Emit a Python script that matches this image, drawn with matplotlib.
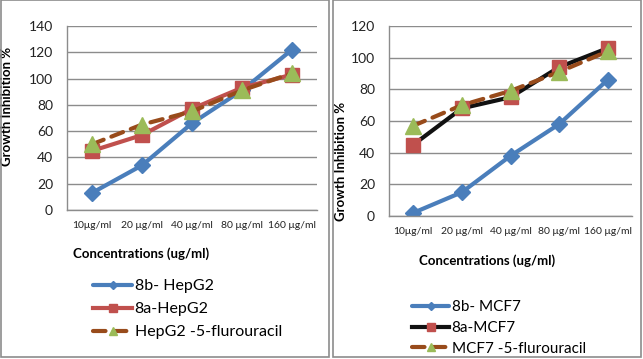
import matplotlib
matplotlib.use("Agg")
import matplotlib.pyplot as plt
from matplotlib.patches import Rectangle

plt.rcParams['font.family'] = ['Lato', 'DejaVu Sans']

categories = ["10μg/ml", "20 μg/ml", "40 μg/ml", "80 μg/ml", "160 μg/ml"]

hepg2_8b = [13, 34, 66, 91, 122]
hepg2_8a = [45, 57, 77, 93, 103]
hepg2_fu = [50, 65, 75, 91, 104]

mcf7_8b = [2, 15, 38, 58, 86]
mcf7_8a = [45, 68, 75, 94, 106]
mcf7_fu = [57, 70, 79, 91, 104]

labels_left = ["8b- HepG2", "8a-HepG2", "HepG2 -5-flurouracil"]
labels_right = ["8b- MCF7", "8a-MCF7", "MCF7 -5-flurouracil"]

W, H = 643, 359
fig = plt.figure(figsize=(W / 100, H / 100), dpi=100)

def fx(px):
    return px / W

def fy(py):
    return 1 - py / H

# panel borders
for (x0, x1) in [(1, 329), (333, 641)]:
    fig.patches.append(Rectangle((fx(x0), fy(357)), fx(x1 - x0), (357 - 0) / H,
                                 transform=fig.transFigure, fill=False,
                                 edgecolor='#8c8c8c', linewidth=1.2))

BLUE = '#4a7ebb'
RED = '#c0504d'
BROWN = '#984b1b'
GREEN = '#9bbb59'
GRID = '#8c8c8c'

def make_axes(left, right, top, bottom):
    return fig.add_axes([fx(left), fy(bottom), fx(right - left), (bottom - top) / H])

def style(ax, ymax):
    ax.set_xlim(-0.5, 4.5)
    ax.set_ylim(0, ymax)
    ax.set_yticks(range(0, ymax + 1, 20))
    ax.grid(axis='y', color=GRID, linewidth=1)
    ax.set_axisbelow(True)
    for s in ['top', 'right']:
        ax.spines[s].set_visible(False)
    for s in ['left', 'bottom']:
        ax.spines[s].set_color(GRID)
        ax.spines[s].set_linewidth(1)
    ax.set_xticks(range(len(categories)))
    ax.set_xticklabels(categories, fontsize=7.5, color='#222222')
    ax.tick_params(axis='x', length=0, pad=8)
    ax.tick_params(axis='y', length=0, pad=10, labelsize=10, labelcolor='#222222')

def plot_series(ax, d8b, d8a, dfu, c8a):
    x = range(len(categories))
    l1, = ax.plot(x, d8b, color=BLUE, linewidth=3, marker='D', markersize=8,
                  markerfacecolor=BLUE, markeredgecolor=BLUE, solid_capstyle='round')
    l2, = ax.plot(x, d8a, color=c8a, linewidth=3, marker='s', markersize=10,
                  markerfacecolor=RED, markeredgecolor=RED)
    l3, = ax.plot(x, dfu, color=BROWN, linewidth=3, linestyle=(0, (3, 2)),
                  dash_capstyle='round', marker='^', markersize=11,
                  markerfacecolor=GREEN, markeredgecolor=GREEN)
    return [l1, l2, l3]

def add_legend(handles, labels, x, y, spacing, size):
    fig.legend(handles, labels, loc='upper left', bbox_to_anchor=(fx(x), fy(y)),
               frameon=False, fontsize=size, handlelength=2.45, handletextpad=0.15,
               labelspacing=spacing, borderpad=0, borderaxespad=0, markerscale=0.55)

# Left chart
axL = make_axes(67, 317, 26, 210)
style(axL, 140)
hL = plot_series(axL, hepg2_8b, hepg2_8a, hepg2_fu, RED)
axL.set_ylabel("Growth Inhibition %", fontsize=9.5, fontweight='bold')
axL.yaxis.set_label_coords((13 - 67) / 250, (210 - 106) / 184)
fig.text(fx(141), fy(254), "Concentrations (ug/ml)", fontsize=9.5, fontweight='bold',
         ha='center', va='center')
add_legend(hL, labels_left, 93, 279, 0.55, 11.5)

# Right chart
axR = make_axes(389, 632, 26, 216)
style(axR, 120)
hR = plot_series(axR, mcf7_8b, mcf7_8a, mcf7_fu, '#111111')
axR.set_ylabel("Growth Inhibition %", fontsize=9.5, fontweight='bold')
axR.yaxis.set_label_coords((347 - 389) / 243, (216 - 161) / 190)
fig.text(fx(487), fy(261), "Concentrations (ug/ml)", fontsize=9.5, fontweight='bold',
         ha='center', va='center')
add_legend(hR, labels_right, 412, 300, 0.45, 11)

fig.savefig("out.png", dpi=100)
